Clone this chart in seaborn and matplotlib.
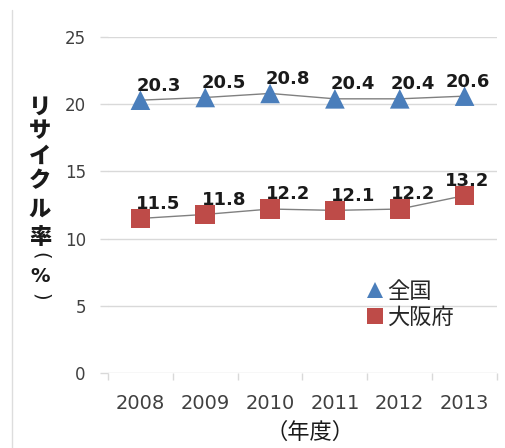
import matplotlib
matplotlib.use("Agg")
import matplotlib.pyplot as plt
from matplotlib.lines import Line2D
from matplotlib.ticker import FixedLocator
import seaborn as sns
import pandas as pd

years = [2008, 2009, 2010, 2011, 2012, 2013]
zenkoku = [20.3, 20.5, 20.8, 20.4, 20.4, 20.6]
osaka = [11.5, 11.8, 12.2, 12.1, 12.2, 13.2]
series_names = ["全国", "大阪府"]
y_ticks = [0, 5, 10, 15, 20, 25]
ylabel_chars = ["リ", "サ", "イ", "ク", "ル", "率", "(", "%", ")"]
xlabel_text = "（年度）"

colors = {"全国": "#4A7EBB", "大阪府": "#BE4B48"}
markers = {"全国": "^", "大阪府": "s"}

df = pd.DataFrame({
    "year": years * 2,
    "rate": zenkoku + osaka,
    "series": [series_names[0]] * len(years) + [series_names[1]] * len(years),
})

sns.set_theme(style="white")
plt.rcParams["font.family"] = ["DejaVu Sans", "Noto Sans CJK JP"]
JP = ["Noto Sans CJK JP", "DejaVu Sans"]

fig = plt.figure(figsize=(5.06, 4.48), dpi=100)
ax = fig.add_axes([108 / 506, 1 - 373 / 448, (497 - 108) / 506, (373 - 37) / 448])

sns.lineplot(data=df, x="year", y="rate", units="series", estimator=None,
             color="#808080", lw=1, legend=False, ax=ax)
sns.scatterplot(data=df, x="year", y="rate", hue="series", style="series",
                markers=markers, palette=colors, s=200, linewidth=0,
                legend=False, ax=ax, zorder=3)

# data labels
dx_px = [18, 19, 18, 18, 13, 3]
for vals in (zenkoku, osaka):
    for i, (x, v) in enumerate(zip(years, vals)):
        ax.annotate(f"{v:.1f}", (x, v), xytext=(dx_px[i] * 0.72, 4),
                    textcoords="offset points", ha="center", va="bottom",
                    fontsize=13, fontweight="bold", color="#1a1a1a")

ax.set_xlim(years[0] - 0.5, years[-1] + 0.5)
ax.set_ylim(0, 25)
ax.set_xticks(years)
ax.set_xticklabels([str(y) for y in years])
ax.xaxis.set_minor_locator(FixedLocator([y - 0.5 for y in years] + [years[-1] + 0.5]))
ax.set_yticks(y_ticks)
ax.set_yticklabels([str(t) for t in y_ticks])
ax.grid(axis="y", color="#d9d9d9", lw=1)
ax.set_axisbelow(True)
for s in ax.spines.values():
    s.set_visible(False)
ax.tick_params(axis="x", which="major", length=0, pad=15, labelsize=14, labelcolor="#404040")
ax.tick_params(axis="x", which="minor", length=5, width=1, color="#d9d9d9", direction="out", bottom=True)
ax.tick_params(axis="y", which="major", length=6, width=1, color="#d9d9d9", left=True,
               pad=10, labelsize=12, labelcolor="#404040")
ax.set_xlabel("")
ax.set_ylabel("")

# vertical y-axis title, one character per line (parentheses turned for vertical writing)
ylabel_y = [107, 131, 156, 181, 209, 237, 256, 277, 297]
for ch, yy in zip(ylabel_chars, ylabel_y):
    if ch in "()":
        fig.text(40 / 506, 1 - yy / 448, ch, family="DejaVu Sans", fontsize=14,
                 ha="center", va="center", rotation=-90, color="#1a1a1a")
    elif ch == "%":
        fig.text(40 / 506, 1 - yy / 448, ch, family="DejaVu Sans", fontsize=14,
                 fontweight="bold", ha="center", va="center", color="#1a1a1a")
    else:
        fig.text(40 / 506, 1 - yy / 448, ch, family=JP, fontsize=16, fontweight="heavy",
                 ha="center", va="center", color="#1a1a1a")

fig.text(310 / 506, 1 - 432 / 448, xlabel_text, family=JP, fontsize=16,
         ha="center", va="center", color="#1a1a1a")

handles = [Line2D([], [], ls="none", marker=markers[n], color=colors[n], ms=11, mew=0)
           for n in series_names]
leg = ax.legend(handles, series_names, loc="upper left",
                bbox_to_anchor=(355 / 506, 1 - 269 / 448), bbox_transform=fig.transFigure,
                frameon=False, borderpad=0, handlelength=0.8, handletextpad=0.15,
                labelspacing=0.12, prop={"family": JP, "size": 16})

fig.add_artist(Line2D([12 / 506, 12 / 506], [0, 1 - 10 / 448], transform=fig.transFigure,
                      color="#dddddd", lw=1))

fig.savefig("out.png", dpi=100)
